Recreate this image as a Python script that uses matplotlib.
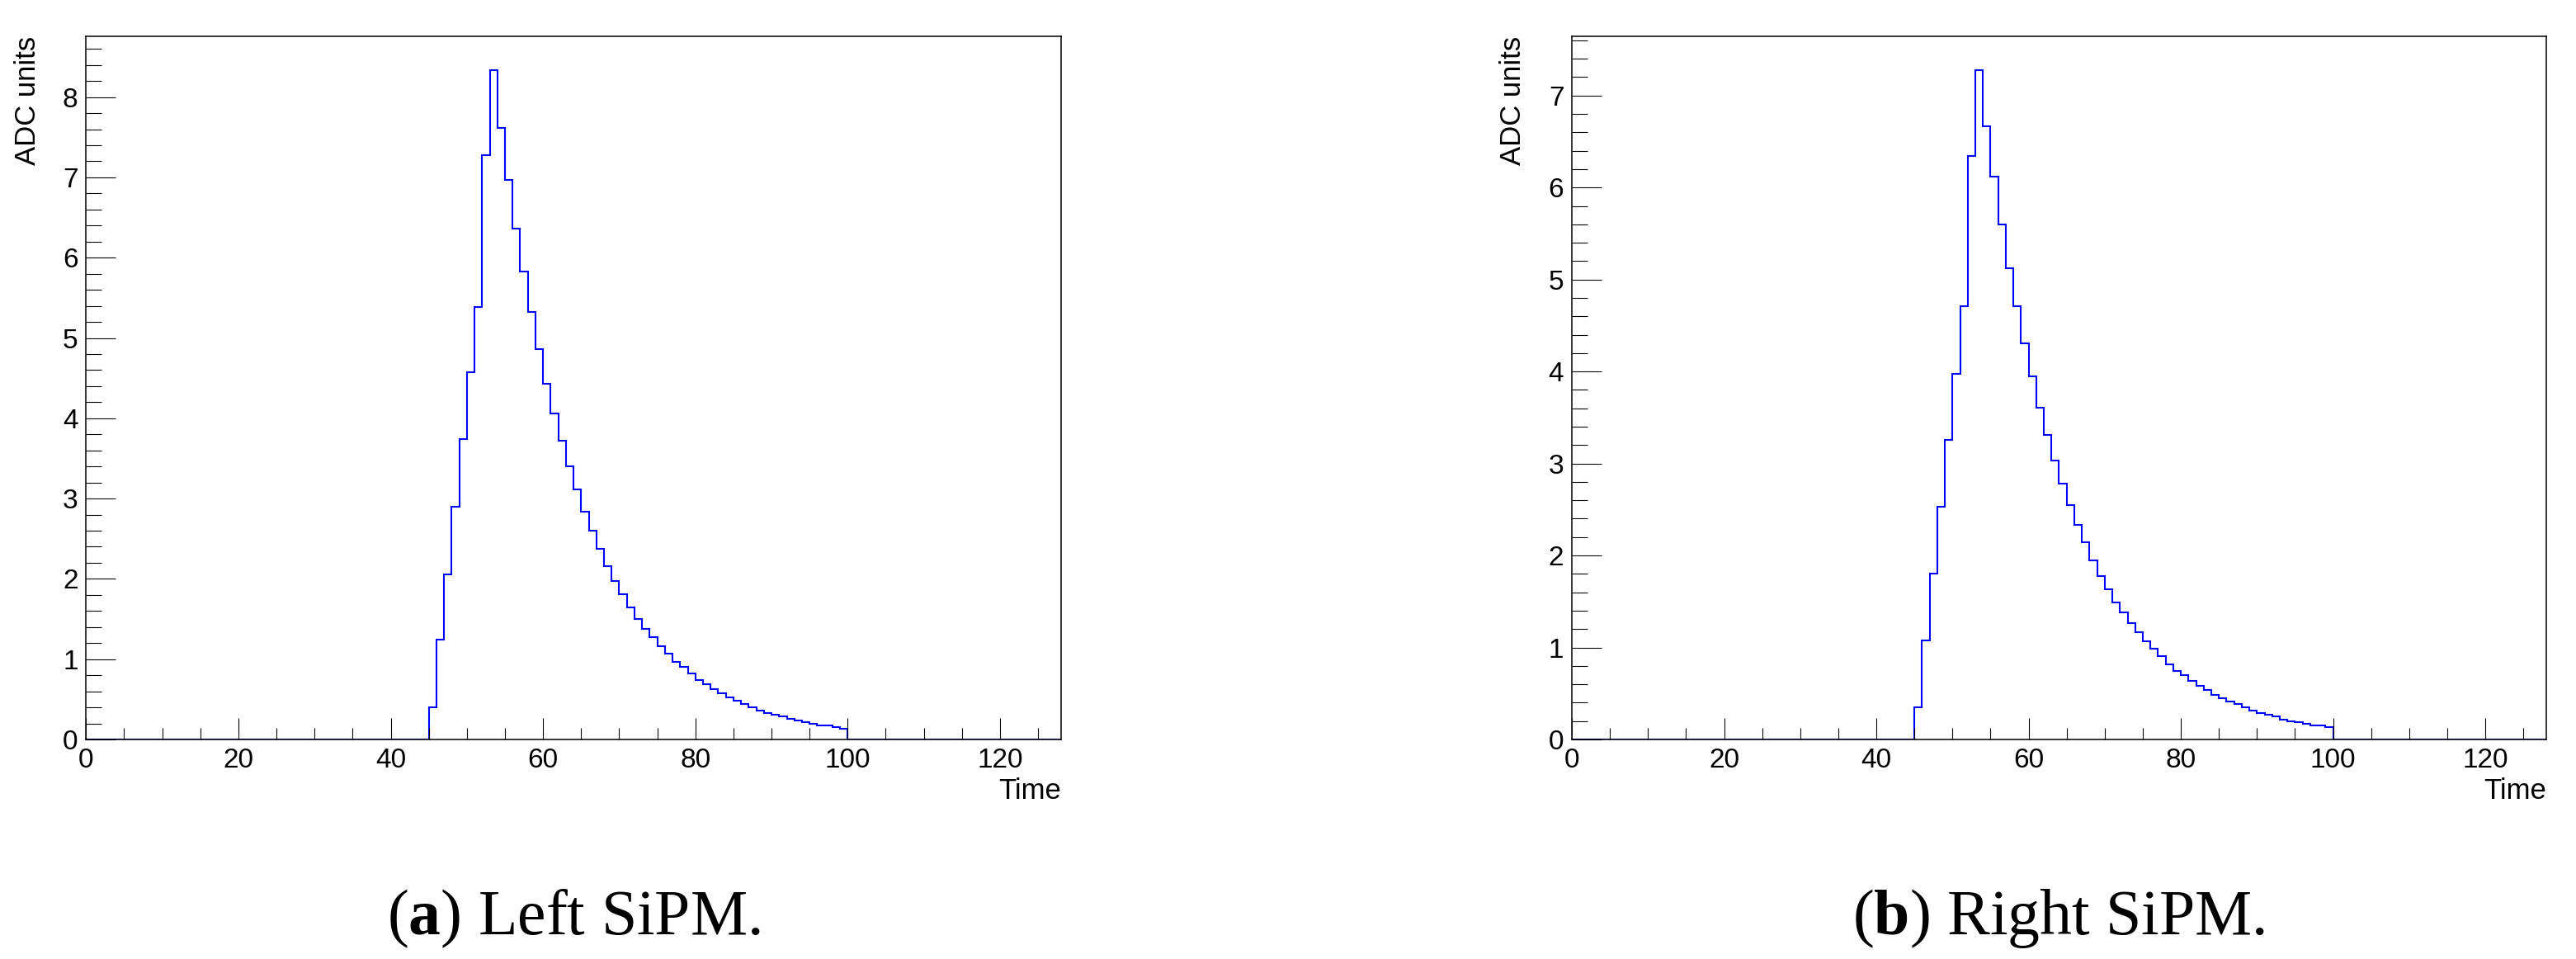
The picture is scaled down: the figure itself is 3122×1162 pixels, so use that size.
import numpy as np
import matplotlib
matplotlib.use('Agg')
import matplotlib.pyplot as plt
from matplotlib.ticker import MultipleLocator

plt.rcParams['font.family'] = 'Liberation Sans'
plt.rcParams['mathtext.fontset'] = 'custom'
plt.rcParams['mathtext.rm'] = 'Liberation Serif'
plt.rcParams['mathtext.bf'] = 'Liberation Serif:bold'

# histogram: 128 bins of width 1, signal starts at bin 45
n_bins = 128
first_bin = 45
left_sipm = [0.40, 1.24, 2.06, 2.90, 3.74, 4.57, 5.39, 7.28, 8.34, 7.62,
             6.97, 6.36, 5.83, 5.32, 4.86, 4.43, 4.06, 3.72, 3.40, 3.11,
             2.84, 2.60, 2.37, 2.16, 1.97, 1.81, 1.64, 1.50, 1.38, 1.27,
             1.16, 1.07, 0.97, 0.90, 0.82, 0.745, 0.687, 0.628, 0.573, 0.522,
             0.48, 0.443, 0.40, 0.36, 0.33, 0.31, 0.29, 0.257, 0.237, 0.216,
             0.196, 0.175, 0.175, 0.158, 0.137]
right_sipm = [0.35, 1.08, 1.80, 2.53, 3.26, 3.97, 4.71, 6.34, 7.28, 6.67,
              6.12, 5.60, 5.12, 4.71, 4.31, 3.95, 3.61, 3.31, 3.03, 2.78,
              2.55, 2.33, 2.14, 1.95, 1.78, 1.63, 1.49, 1.38, 1.265, 1.166,
              1.067, 0.986, 0.902, 0.818, 0.749, 0.70, 0.636, 0.585, 0.534, 0.483,
              0.45, 0.417, 0.384, 0.351, 0.318, 0.285, 0.267, 0.252, 0.219, 0.20,
              0.186, 0.168, 0.153, 0.153, 0.135]
captions = [('a', 'Left SiPM.'), ('b', 'Right SiPM.')]

fig = plt.figure(figsize=(31.22, 11.62), dpi=100)
positions = [[0.03341, 0.22892, 0.37844, 0.73322],
             [0.61018, 0.22892, 0.37828, 0.73322]]

for pos, data, (letter, text) in zip(positions, [left_sipm, right_sipm], captions):
    ax = fig.add_axes(pos)
    counts = np.zeros(n_bins)
    counts[first_bin:first_bin + len(data)] = data
    edges = np.arange(n_bins + 1)
    ax.stairs(counts, edges, color=(0, 0, 1), linewidth=1.5)
    ax.set_xlim(0, n_bins)
    ax.set_ylim(0, 1.05 * max(data))

    ax.xaxis.set_major_locator(MultipleLocator(20))
    ax.xaxis.set_minor_locator(MultipleLocator(5))
    ax.yaxis.set_major_locator(MultipleLocator(1))
    ax.yaxis.set_minor_locator(MultipleLocator(0.2))
    ax.tick_params(which='both', direction='in', top=False, right=False,
                   width=0.8, labelsize=24, pad=7)
    ax.tick_params(axis='x', which='major', length=19)
    ax.tick_params(axis='x', which='minor', length=10)
    ax.tick_params(axis='y', which='major', length=26)
    ax.tick_params(axis='y', which='minor', length=14)
    for sp in ax.spines.values():
        sp.set_linewidth(1.1)

    ax.text(1.0, -0.054, 'Time', transform=ax.transAxes, ha='right', va='top', fontsize=25)
    ax.text(-0.0603, 1.0, 'ADC units', transform=ax.transAxes, rotation=90,
            ha='center', va='top', fontsize=25)

    cx = pos[0] + pos[2] / 2
    fig.text(cx, 1 - 1132 / 1162, r'($\mathbf{' + letter + r'}$) ' + text,
             ha='center', va='baseline', fontsize=56, family='Liberation Serif')

fig.savefig('out.png', dpi=100)
